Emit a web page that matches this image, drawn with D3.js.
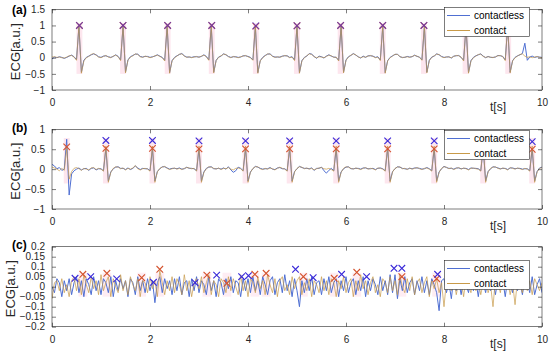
<!DOCTYPE html>
<html><head><meta charset="utf-8">
<script src="https://cdn.jsdelivr.net/npm/d3@7"></script>
<style>body{margin:0;background:#fff}svg{display:block}</style>
</head><body>
<svg id="c" width="550" height="351"></svg>
<script>
// ---------- data ----------
const dt = 0.05;               // sample spacing of the traces [s]
const xTicks = [0, 2, 4, 6, 8, 10];
const yTicksA = [-1, -0.5, 0, 0.5, 1, 1.5];
const yTicksB = [-1, -0.5, 0, 0.5, 1];
const yTicksC = [-0.2, -0.15, -0.1, -0.05, 0, 0.05, 0.1, 0.15, 0.2];
const seriesNames = ["contactless", "contact"];
const panelLabels = ["(a)", "(b)", "(c)"];

const aContact = [
 0.02,0.03,0.01,0.02,0.00,-0.01,0.02,0.06,0.07,0.02,
 -0.08,1.00,-0.48,-0.10,0.00,0.04,0.10,0.13,0.08,0.02,
 0.00,0.04,0.07,0.02,0.00,0.05,0.08,0.03,-0.09,1.00,
 -0.47,-0.08,0.02,0.06,0.12,0.10,0.03,0.01,0.05,0.03,
 0.00,0.02,0.06,0.08,0.04,0.00,-0.10,1.00,-0.48,-0.10,
 0.00,0.05,0.11,0.12,0.05,0.01,0.03,0.00,0.02,0.04,
 0.01,0.05,0.08,0.03,-0.08,1.00,-0.47,-0.09,0.01,0.06,
 0.11,0.10,0.03,0.00,0.04,0.02,0.00,0.03,0.05,0.07,
 0.03,0.00,-0.08,1.00,-0.48,-0.10,0.00,0.06,0.12,0.11,
 0.04,0.01,0.03,0.01,0.04,0.07,0.05,0.00,0.02,-0.09,
 1.00,-0.48,-0.10,0.00,0.06,0.12,0.10,0.03,0.00,0.03,
 0.02,0.00,0.04,0.08,0.06,0.01,0.02,-0.10,1.00,-0.47,
 -0.08,0.02,0.08,0.12,0.09,0.02,0.00,0.03,0.02,0.05,
 0.07,0.04,0.00,0.02,-0.09,1.00,-0.48,-0.10,0.00,0.05,
 0.11,0.10,0.04,0.00,0.02,0.03,0.01,0.04,0.07,0.05,
 0.01,-0.08,1.00,-0.47,-0.09,0.01,0.06,0.11,0.10,0.03,
 0.00,0.03,0.02,0.00,0.04,0.07,0.06,0.02,-0.10,1.00,
 -0.48,-0.10,0.00,0.05,0.10,0.11,0.04,0.01,0.03,0.02,
 0.00,0.03,0.06,0.07,0.03,-0.09,1.00,-0.47,-0.10,0.00,
 0.05,0.10,0.12,0.05,0.01,0.03,0.00,0.02,0.04,0.01,
 0.00];
const aContactless = [
 -0.04,0.02,0.00,0.03,0.01,-0.02,0.01,0.05,0.08,0.03,
 -0.06,0.97,-0.45,-0.08,0.01,0.05,0.09,0.12,0.09,0.03,
 0.01,0.05,0.06,0.03,0.01,0.04,0.09,0.04,-0.07,0.97,
 -0.45,-0.07,0.03,0.07,0.11,0.11,0.04,0.02,0.04,0.04,
 0.01,0.03,0.05,0.09,0.05,0.01,-0.08,0.97,-0.46,-0.09,
 0.01,0.06,0.10,0.13,0.06,0.02,0.02,0.01,0.03,0.03,
 0.02,0.04,0.09,0.04,-0.07,0.97,-0.45,-0.08,0.02,0.05,
 0.12,0.09,0.04,0.01,0.03,0.03,0.01,0.02,0.06,0.06,
 0.04,0.01,-0.07,0.97,-0.46,-0.09,0.01,0.07,0.11,0.12,
 0.05,0.02,0.02,0.02,0.05,0.06,0.06,0.01,0.03,-0.07,
 0.97,-0.46,-0.09,0.01,0.05,0.13,0.11,0.04,-0.02,0.05,
 0.03,-0.01,0.05,0.09,0.05,0.02,0.01,-0.08,0.97,-0.45,
 -0.07,0.03,0.07,0.13,0.08,0.03,-0.01,0.05,0.01,0.06,
 0.06,0.05,0.01,0.03,-0.07,0.97,-0.46,-0.09,0.01,0.06,
 0.10,0.11,0.03,0.01,0.01,0.04,0.02,0.03,0.08,0.04,
 0.02,-0.07,0.97,-0.45,-0.08,0.02,0.05,0.12,0.09,0.04,
 0.01,0.02,0.03,-0.01,0.05,0.06,0.07,0.01,-0.08,0.97,
 -0.46,-0.09,0.01,0.06,0.09,0.12,0.05,0.00,0.04,0.01,
 0.01,0.02,0.07,0.06,0.04,-0.07,0.97,-0.45,-0.09,0.01,
 0.06,0.09,0.13,0.45,-0.08,0.02,0.05,0.01,0.03,0.02,
 0.01];
const aPeaksContact = [[0.56,1.0],[1.45,1.0],[2.36,1.0],[3.26,1.0],[4.16,0.98],[5.0,0.99],[5.89,1.0],[6.75,1.0],[7.59,1.0],[8.44,1.0],[9.31,1.0]];
const aPeaksContactless = [[0.56,1.0],[1.45,1.0],[2.36,1.0],[3.26,1.0],[4.16,0.99],[5.0,0.99],[5.89,1.0],[6.75,1.0],[7.59,1.0],[8.44,1.0],[9.31,1.0]];

const bContact = [
 0.05,0.03,0.00,-0.04,0.02,-0.03,0.52,-0.25,-0.06,0.02,
 0.04,0.01,-0.03,0.02,0.00,-0.02,0.03,0.04,-0.01,0.02,
 0.00,-0.05,0.58,-0.33,-0.08,0.02,0.06,0.05,0.01,0.03,
 -0.02,0.02,0.00,0.03,0.09,0.01,-0.02,0.01,0.02,0.00,
 -0.05,0.58,-0.33,-0.07,0.02,0.05,0.07,0.02,-0.01,0.01,
 0.03,0.00,0.02,-0.01,0.02,0.04,0.03,0.01,0.02,-0.05,
 0.58,-0.33,-0.08,0.01,0.06,0.05,0.02,0.00,0.03,-0.01,
 0.02,0.01,0.04,0.00,-0.02,0.02,0.03,0.01,-0.05,0.58,
 -0.33,-0.08,0.02,0.06,0.06,0.01,-0.01,0.02,0.00,0.03,
 0.01,-0.02,0.02,0.05,0.02,0.00,-0.05,0.58,-0.33,-0.07,
 0.02,0.06,0.05,0.01,0.03,0.00,0.02,-0.02,0.01,0.03,
 0.04,0.01,0.00,0.02,-0.01,-0.05,0.58,-0.33,-0.08,0.02,
 0.06,0.05,0.02,0.00,0.03,0.01,-0.01,0.02,0.04,0.00,
 0.02,0.01,-0.02,0.03,0.02,0.00,-0.05,0.58,-0.33,-0.07,
 0.02,0.05,0.06,0.01,0.02,-0.01,0.03,0.00,0.02,0.04,
 0.01,-0.01,0.02,0.03,0.00,-0.05,0.58,-0.33,-0.08,0.02,
 0.06,0.05,0.01,0.03,-0.01,0.02,0.04,0.00,0.03,0.01,
 -0.02,0.02,0.03,0.01,0.00,-0.05,0.58,-0.33,-0.07,0.02,
 0.05,0.06,0.02,0.00,0.03,0.01,-0.02,0.04,0.02,0.00,
 0.03,0.01,-0.01,0.02,0.00,-0.05,0.58,-0.33,-0.07,0.02,
 0.04];
const bContactless = [
 0.12,0.08,0.01,0.04,-0.03,0.00,0.75,-0.65,-0.12,-0.04,
 0.00,0.03,-0.02,0.01,0.02,-0.03,0.02,0.03,-0.02,0.01,
 0.01,-0.04,0.52,-0.30,-0.07,0.01,0.05,0.06,0.02,0.02,
 -0.01,0.03,-0.01,0.02,0.08,0.03,-0.01,0.02,0.01,0.01,
 -0.04,0.52,-0.30,-0.06,0.01,0.06,0.06,0.03,0.00,0.02,
 0.02,0.01,0.03,0.00,0.01,0.05,0.02,0.02,0.01,-0.04,
 0.52,-0.30,-0.07,0.02,0.05,0.06,0.01,0.01,0.02,0.00,
 0.03,0.00,0.06,-0.02,-0.08,-0.04,0.05,0.02,-0.04,0.52,
 -0.30,-0.07,0.01,0.07,0.05,0.02,0.00,0.01,0.01,0.04,
 0.00,-0.01,0.03,0.04,0.01,0.01,-0.04,0.52,-0.30,-0.06,
 0.01,0.07,0.04,0.02,0.02,0.01,0.03,-0.03,0.02,0.02,
 0.05,-0.04,-0.10,-0.03,0.02,-0.04,0.52,-0.30,-0.07,0.01,
 0.05,0.06,0.01,0.01,0.02,0.02,0.00,0.03,0.03,0.01,
 0.01,0.02,-0.01,0.02,0.03,0.01,-0.04,0.52,-0.30,-0.06,
 0.01,0.06,0.05,0.02,0.01,0.00,0.02,0.01,0.03,0.03,
 0.02,0.00,0.01,0.04,0.01,-0.04,0.52,-0.30,-0.07,0.01,
 0.07,0.04,0.02,0.02,0.00,0.03,0.03,0.01,0.02,0.02,
 -0.01,0.03,0.02,0.02,0.01,-0.04,0.52,-0.30,-0.06,0.01,
 0.06,0.05,0.03,0.01,0.02,0.02,-0.01,0.03,0.03,0.01,
 0.02,0.02,0.00,0.01,0.01,-0.04,0.52,-0.30,-0.06,0.03,
 0.05];
const bPeaksContact = [[0.3,0.56],[1.1,0.52],[2.05,0.52],[3.0,0.51],[3.95,0.51],[4.85,0.51],[5.8,0.51],[6.85,0.51],[7.8,0.51],[8.80,0.51],[9.8,0.5]];
const bPeaksContactless = [[1.1,0.72],[2.05,0.72],[3.0,0.71],[3.95,0.71],[4.85,0.71],[5.8,0.71],[6.85,0.71],[7.8,0.71],[8.80,0.71],[9.8,0.69]];

const cContact = [
 -0.06,0.02,0.03,-0.02,0.04,-0.03,0.01,-0.05,0.03,0.05,
 -0.02,0.04,-0.04,0.06,0.01,-0.03,0.05,-0.01,0.03,-0.04,
 0.06,-0.02,0.02,0.05,-0.05,0.04,0.00,-0.03,0.06,-0.02,
 0.03,-0.04,0.05,0.01,-0.02,0.04,-0.05,0.03,0.02,-0.03,
 0.05,-0.01,0.03,-0.05,0.08,0.02,-0.04,0.03,-0.02,0.05,
 -0.03,0.04,0.01,-0.04,0.06,-0.02,0.03,-0.05,0.02,0.04,
 -0.01,0.05,-0.03,0.02,0.06,-0.04,0.03,0.01,-0.05,0.04,
 0.02,-0.03,0.05,-0.02,0.04,0.00,-0.04,0.06,-0.02,0.03,
 -0.05,0.04,0.02,-0.03,0.05,-0.01,0.03,-0.04,0.06,0.01,
 -0.03,0.04,-0.05,0.03,0.05,-0.02,0.01,-0.04,0.05,-0.01,
 0.03,0.05,-0.04,0.02,-0.02,0.04,-0.05,0.03,0.01,-0.03,
 0.05,-0.02,0.03,-0.04,0.04,0.02,-0.05,0.03,-0.01,0.05,
 -0.03,0.02,0.04,-0.05,0.03,-0.02,0.06,-0.01,0.03,-0.04,
 0.02,0.05,-0.03,0.01,-0.05,0.04,0.02,-0.03,0.05,-0.02,
 0.03,-0.04,0.06,0.00,-0.03,0.04,-0.02,0.05,-0.04,0.02,
 0.04,-0.03,0.02,0.05,-0.05,0.03,-0.01,0.04,-0.03,0.02,
 -0.10,0.03,0.05,-0.02,0.04,-0.04,0.02,0.03,-0.05,0.04,
 0.01,-0.03,0.05,-0.02,0.03,-0.04,0.02,0.04,-0.03,0.01,
 -0.10,0.04,0.02,-0.03,0.05,-0.01,0.03,-0.04,0.02,-0.09,
 0.04,0.01,-0.03,0.05,-0.02,0.03,-0.04,0.04,0.01,-0.02,
 0.02];
const cContactless = [
 0.00,-0.03,0.04,0.02,-0.05,0.03,-0.02,0.04,-0.04,0.02,
 0.05,-0.03,0.03,-0.05,0.04,0.01,-0.04,0.05,-0.02,0.03,
 -0.04,0.04,0.02,-0.03,0.05,-0.05,0.03,-0.02,0.04,-0.01,
 0.03,-0.05,0.04,0.02,-0.04,0.05,-0.02,0.03,-0.03,0.04,
 -0.02,0.03,-0.08,0.02,0.05,-0.03,0.04,-0.01,0.03,-0.04,
 0.04,-0.02,0.05,-0.04,0.02,0.03,-0.05,0.04,-0.02,0.05,
 -0.03,0.03,0.01,-0.04,0.05,-0.02,0.03,-0.05,0.04,0.02,
 -0.04,0.04,-0.01,0.05,-0.03,0.03,0.02,-0.05,0.04,-0.02,
 0.04,-0.03,0.05,-0.02,0.03,-0.04,0.05,0.01,-0.04,0.03,
 0.05,-0.04,0.02,0.04,-0.03,0.06,-0.02,0.03,-0.05,0.04,
 -0.02,-0.10,0.03,-0.03,0.04,-0.02,0.05,-0.04,0.02,0.03,
 -0.04,0.04,-0.02,0.05,-0.03,0.02,0.04,-0.05,0.03,-0.02,
 0.05,-0.03,0.02,0.04,-0.04,0.03,-0.02,0.05,-0.05,0.03,
 -0.02,0.04,0.01,-0.04,0.05,-0.02,0.03,-0.04,0.06,-0.03,
 0.06,-0.06,0.04,-0.02,0.05,-0.03,0.02,0.04,-0.04,0.03,
 -0.02,0.05,-0.03,0.03,-0.04,0.04,0.01,-0.03,-0.12,0.03,
 0.04,-0.03,0.02,-0.06,0.05,-0.02,0.03,-0.04,0.04,0.01,
 -0.03,0.05,-0.02,0.03,-0.05,0.04,0.02,-0.03,0.05,-0.02,
 0.03,-0.04,0.04,-0.01,0.03,-0.05,0.04,0.02,-0.03,0.05,
 -0.02,0.03,-0.04,0.04,0.02,-0.03,0.05,-0.04,0.01,0.04,
 -0.03];
const cPeaksContact = [[0.63,0.062],[1.12,0.067],[1.83,0.045],[2.2,0.087],[3.16,0.058],[3.57,0.017],[4.14,0.062],[4.37,0.067],[5.13,0.05],[5.76,0.042],[6.22,0.072],[7.14,0.05],[7.85,0.04]];
const cPeaksContactless = [[0.47,0.042],[0.79,0.05],[1.32,0.039],[2.07,0.022],[2.92,0.02],[3.36,0.058],[3.87,0.05],[4.01,0.055],[4.97,0.087],[5.33,0.045],[5.91,0.062],[6.42,0.05],[6.98,0.092],[7.14,0.092],[7.87,0.062]];

// ---------- drawing ----------
const FONT = "'Liberation Sans', Arial, Helvetica, sans-serif";
const colLess = "#4f6fd2", colCon = "#c89a48";
const xMarkLess = "#3a2ad8", xMarkCon = "#d4532e";
const svg = d3.select("#c").style("font-family", FONT);
const x = d3.scaleLinear().domain([0, 10]).range([52, 542]);

const panels = [
  {lab: panelLabels[0], top: 9.3, bot: 90, dom: [-1, 1.5], ticks: yTicksA, con: aContact, less: aContactless,
   pc: aPeaksContact, pl: aPeaksContactless, band: [-0.5, 1.07], bw: 0.06, leg: 7, ylx: 20},
  {lab: panelLabels[1], top: 129.3, bot: 209, dom: [-1, 1], ticks: yTicksB, con: bContact, less: bContactless,
   pc: bPeaksContact, pl: bPeaksContactless, band: [-0.36, 0.78], bw: 0.06, leg: 129.5, ylx: 20},
  {lab: panelLabels[2], top: 246.7, bot: 326.7, dom: [-0.2, 0.2], ticks: yTicksC, con: cContact, less: cContactless,
   pc: cPeaksContact, pl: cPeaksContactless, band: [-0.05, 0.07], bw: 0.09, leg: 259.5, ylx: 15}
];

panels.forEach((p, pi) => {
  const y = d3.scaleLinear().domain(p.dom).range([p.bot, p.top]);
  const g = svg.append("g");
  const clipId = "clip" + pi;
  svg.append("clipPath").attr("id", clipId).append("rect")
    .attr("x", x(0)).attr("y", p.top).attr("width", x(10) - x(0)).attr("height", p.bot - p.top);
  const plot = g.append("g").attr("clip-path", `url(#${clipId})`);

  // pink analysis windows around detected contact peaks
  plot.selectAll("rect.band").data(p.pc).join("rect")
    .attr("x", d => x(d[0] - p.bw)).attr("width", d => x(d[0] + p.bw) - x(d[0] - p.bw))
    .attr("y", y(p.band[1])).attr("height", y(p.band[0]) - y(p.band[1]))
    .attr("fill", "#fde6ee").attr("opacity", pi === 2 ? 0.7 : 1);

  const line = d3.line().x((d, i) => x(i * dt)).y(d => y(d));
  plot.append("path").datum(p.less).attr("d", line)
    .attr("fill", "none").attr("stroke", colLess).attr("stroke-width", 1).attr("stroke-linejoin", "round");
  plot.append("path").datum(p.con).attr("d", line)
    .attr("fill", "none").attr("stroke", colCon).attr("stroke-width", 1).attr("stroke-opacity", 0.7).attr("stroke-linejoin", "round");

  const xMark = (sel, data, col, op) => {
    const s = 3.3;
    sel.selectAll(null).data(data).join("path")
      .attr("d", d => { const cx = x(d[0]), cy = y(d[1]);
        return `M${cx - s},${cy - s}L${cx + s},${cy + s}M${cx - s},${cy + s}L${cx + s},${cy - s}`; })
      .attr("stroke", col).attr("stroke-width", 1.1).attr("stroke-opacity", op).attr("fill", "none");
  };
  xMark(plot.append("g"), p.pc, xMarkCon, 1);
  xMark(plot.append("g"), p.pl, xMarkLess, pi === 0 ? 0.65 : 1);

  // axes (MATLAB style, inward ticks on all sides)
  const tk = 4;
  const ax = g.append("g").attr("transform", `translate(0,${p.bot})`)
    .call(d3.axisBottom(x).tickValues(xTicks).tickSize(-tk).tickPadding(9).tickFormat(d3.format("")));
  const axT = g.append("g").attr("transform", `translate(0,${p.top})`)
    .call(d3.axisTop(x).tickValues(xTicks).tickSize(-tk).tickFormat(""));
  const ay = g.append("g").attr("transform", `translate(${x(0)},0)`)
    .call(d3.axisLeft(y).tickValues(p.ticks).tickSize(-tk).tickPadding(7).tickFormat(d3.format("")));
  const ayR = g.append("g").attr("transform", `translate(${x(10)},0)`)
    .call(d3.axisRight(y).tickValues(p.ticks).tickSize(-tk).tickFormat(""));
  [ax, axT, ay, ayR].forEach(a => {
    a.select(".domain").remove();
    a.selectAll("line").attr("stroke", "#262626").attr("stroke-width", 0.6);
    a.selectAll("text").attr("fill", "#262626").style("font-family", FONT).style("font-size", "10px");
  });
  g.append("rect").attr("x", x(0)).attr("y", p.top).attr("width", x(10) - x(0)).attr("height", p.bot - p.top)
    .attr("fill", "none").attr("stroke", "#262626").attr("stroke-width", 0.6);

  // x label
  g.append("text").attr("x", 498).attr("y", p.bot + 21).attr("text-anchor", "middle")
    .attr("fill", "#262626").style("font-size", "12px").text("t[s]");
  // y label
  g.append("text").attr("transform", `translate(${p.ylx},${(p.top + p.bot) / 2 + 2}) rotate(-90)`)
    .attr("text-anchor", "middle").attr("fill", "#262626").style("font-size", "13px").text("ECG[a.u.]");
  // panel label
  g.append("text").attr("x", 12).attr("y", p.top + (pi === 0 ? 4.5 : 2.5)).attr("fill", "#000")
    .style("font-size", "12px").style("font-weight", "bold").text(p.lab);

  // legend
  const lg = g.append("g").attr("transform", `translate(444,${Math.round(p.leg)})`);
  lg.append("rect").attr("x", 0.5).attr("y", 0.5).attr("width", 85).attr("height", 29).attr("fill", "#fff")
    .attr("stroke", "#262626").attr("stroke-width", 0.6);
  [colLess, colCon].forEach((c, i) => {
    const ly = i === 0 ? 8.5 : 23.5;
    lg.append("line").attr("x1", 3).attr("x2", 26).attr("y1", ly).attr("y2", ly)
      .attr("stroke", c).attr("stroke-width", 1);
    lg.append("text").attr("x", 30).attr("y", ly + 3.6).attr("fill", "#000")
      .style("font-size", "10px").text(seriesNames[i]);
  });
});
</script>
</body></html>
